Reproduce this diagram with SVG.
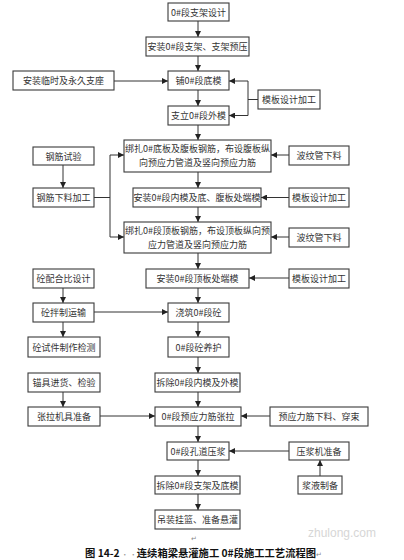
<svg xmlns="http://www.w3.org/2000/svg" width="404" height="560" viewBox="0 0 404 560">
<style>
.b{fill:#fff;stroke:#3a3a3a;stroke-width:1.1}
.t{font-family:"Noto Sans CJK SC","Noto Sans",sans-serif;font-size:9px;fill:#333;text-anchor:middle;dominant-baseline:central}
.c{fill:none;stroke:#333;stroke-width:1}
.cap{font-family:"Noto Sans CJK SC","Noto Sans",sans-serif;font-size:10.3px;font-weight:bold;fill:#111}
.pm{font-family:"DejaVu Sans",sans-serif;font-size:7px;fill:#888}
</style>
<defs>
<marker id="a" viewBox="0 0 6 6" refX="6" refY="3" markerWidth="6" markerHeight="6" markerUnits="userSpaceOnUse" orient="auto"><path d="M0,0L6,3L0,6z" fill="#222"/></marker>
</defs>
<rect width="404" height="560" fill="#fff"/>
<g id="connectors">
<path class="c" marker-end="url(#a)" d="M198,21V37"/>
<path class="c" marker-end="url(#a)" d="M198,56V71"/>
<path class="c" marker-end="url(#a)" d="M198,90V106"/>
<path class="c" marker-end="url(#a)" d="M198,125V140"/>
<path class="c" marker-end="url(#a)" d="M198,172V188"/>
<path class="c" marker-end="url(#a)" d="M198,207V222"/>
<path class="c" marker-end="url(#a)" d="M198,253V269"/>
<path class="c" marker-end="url(#a)" d="M198,288V303"/>
<path class="c" marker-end="url(#a)" d="M198,322V337"/>
<path class="c" marker-end="url(#a)" d="M198,357V373"/>
<path class="c" marker-end="url(#a)" d="M198,392V407"/>
<path class="c" marker-end="url(#a)" d="M198,426V442"/>
<path class="c" marker-end="url(#a)" d="M198,460V476"/>
<path class="c" marker-end="url(#a)" d="M198,494V510"/>
<path class="c" marker-end="url(#a)" d="M114,81H168"/>
<path class="c" d="M258,99.5H248M248,81V115.5"/>
<path class="c" marker-end="url(#a)" d="M248,81H229"/>
<path class="c" marker-end="url(#a)" d="M248,115.5H229"/>
<path class="c" marker-end="url(#a)" d="M63,165V188"/>
<path class="c" d="M94,197.5H110M110,155V237"/>
<path class="c" marker-end="url(#a)" d="M110,155H124"/>
<path class="c" marker-end="url(#a)" d="M110,237H124"/>
<path class="c" marker-end="url(#a)" d="M289,155H271"/>
<path class="c" marker-end="url(#a)" d="M289,197.5H261"/>
<path class="c" marker-end="url(#a)" d="M289,237H271"/>
<path class="c" marker-end="url(#a)" d="M289,278H249"/>
<path class="c" marker-end="url(#a)" d="M63,288V303"/>
<path class="c" marker-end="url(#a)" d="M94,312H168"/>
<path class="c" marker-end="url(#a)" d="M63,322V337"/>
<path class="c" marker-end="url(#a)" d="M63,392V407"/>
<path class="c" marker-end="url(#a)" d="M100,416H155"/>
<path class="c" marker-end="url(#a)" d="M270,416H241"/>
<path class="c" marker-end="url(#a)" d="M289,451H229"/>
<path class="c" marker-end="url(#a)" d="M320,476V460"/>
</g>
<g id="n1"><rect class="b" x="168" y="3" width="61" height="18"/><text class="t" x="198.5" y="12">0#段支架设计</text></g>
<g id="n2"><rect class="b" x="146" y="37" width="103" height="19"/><text class="t" x="197.5" y="46.5">安装0#段支架、支架预压</text></g>
<g id="n3"><rect class="b" x="13" y="71" width="101" height="19"/><text class="t" x="63.5" y="80.5">安装临时及永久支座</text></g>
<g id="n4"><rect class="b" x="168" y="71" width="61" height="19"/><text class="t" x="198.5" y="80.5">铺0#段底模</text></g>
<g id="n5"><rect class="b" x="258" y="90" width="62" height="19"/><text class="t" x="289" y="99.5">模板设计加工</text></g>
<g id="n6"><rect class="b" x="168" y="106" width="61" height="19"/><text class="t" x="198.5" y="115.5">支立0#段外模</text></g>
<g id="n7"><rect class="b" x="124" y="140" width="147" height="32"/><text class="t" x="197.5" y="148.5">绑扎0#底板及腹板钢筋，布设腹板纵</text><text class="t" x="197.5" y="162.5">向预应力管道及竖向预应力筋</text></g>
<g id="n8"><rect class="b" x="33" y="147" width="61" height="18"/><text class="t" x="63.5" y="156">钢筋试验</text></g>
<g id="n9"><rect class="b" x="289" y="146" width="60" height="19"/><text class="t" x="319" y="155.5">波纹管下料</text></g>
<g id="n10"><rect class="b" x="33" y="188" width="61" height="19"/><text class="t" x="63.5" y="197.5">钢筋下料加工</text></g>
<g id="n11"><rect class="b" x="133" y="188" width="128" height="19"/><text class="t" x="197" y="197.5">安装0#段内模及底、腹板处端模</text></g>
<g id="n12"><rect class="b" x="289" y="188" width="60" height="19"/><text class="t" x="319" y="197.5">模板设计加工</text></g>
<g id="n13"><rect class="b" x="124" y="222" width="147" height="31"/><text class="t" x="197.5" y="230">绑扎0#段顶板钢筋，布设顶板纵向预</text><text class="t" x="197.5" y="244">应力管道及竖向预应力筋</text></g>
<g id="n14"><rect class="b" x="289" y="228" width="60" height="19"/><text class="t" x="319" y="237.5">波纹管下料</text></g>
<g id="n15"><rect class="b" x="33" y="269" width="61" height="19"/><text class="t" x="63.5" y="278.5">砼配合比设计</text></g>
<g id="n16"><rect class="b" x="146" y="269" width="103" height="19"/><text class="t" x="197.5" y="278.5">安装0#段顶板处端模</text></g>
<g id="n17"><rect class="b" x="289" y="269" width="60" height="19"/><text class="t" x="319" y="278.5">模板设计加工</text></g>
<g id="n18"><rect class="b" x="33" y="303" width="61" height="19"/><text class="t" x="63.5" y="312.5">砼拌制运输</text></g>
<g id="n19"><rect class="b" x="168" y="303" width="61" height="19"/><text class="t" x="198.5" y="312.5">浇筑0#段砼</text></g>
<g id="n20"><rect class="b" x="28" y="337" width="72" height="20"/><text class="t" x="64" y="347">砼试件制作检测</text></g>
<g id="n21"><rect class="b" x="168" y="337" width="61" height="20"/><text class="t" x="198.5" y="347">0#段砼养护</text></g>
<g id="n22"><rect class="b" x="28" y="373" width="72" height="19"/><text class="t" x="64" y="382.5">锚具进货、检验</text></g>
<g id="n23"><rect class="b" x="155" y="373" width="85" height="19"/><text class="t" x="197.5" y="382.5">拆除0#段内模及外模</text></g>
<g id="n24"><rect class="b" x="28" y="407" width="72" height="19"/><text class="t" x="64" y="416.5">张拉机具准备</text></g>
<g id="n25"><rect class="b" x="155" y="407" width="86" height="19"/><text class="t" x="198" y="416.5">0#段预应力筋张拉</text></g>
<g id="n26"><rect class="b" x="270" y="407" width="98" height="19"/><text class="t" x="319" y="416.5">预应力筋下料、穿束</text></g>
<g id="n27"><rect class="b" x="167" y="442" width="62" height="18"/><text class="t" x="198" y="451">0#段孔道压浆</text></g>
<g id="n28"><rect class="b" x="289" y="442" width="60" height="18"/><text class="t" x="319" y="451">压浆机准备</text></g>
<g id="n29"><rect class="b" x="155" y="476" width="85" height="18"/><text class="t" x="197.5" y="485">拆除0#段支架及底模</text></g>
<g id="n30"><rect class="b" x="298" y="476" width="44" height="18"/><text class="t" x="320" y="485">浆液制备</text></g>
<g id="n31"><rect class="b" x="155" y="510" width="85" height="19"/><text class="t" x="197.5" y="519.5">吊装挂篮、准备悬灌</text></g>
<text x="342" y="537" font-family="Liberation Sans,sans-serif" font-size="12" fill="#d6d6d6" text-anchor="middle">zhulong.com</text>
<text class="pm" x="191" y="541">↵</text>
<text class="cap" x="85" y="557">图 14-2<tspan fill="#999" font-weight="normal" font-size="7"> · ·</tspan>连续箱梁悬灌施工 0#段施工工艺流程图<tspan class="pm" font-weight="normal">↵</tspan></text>
</svg>
